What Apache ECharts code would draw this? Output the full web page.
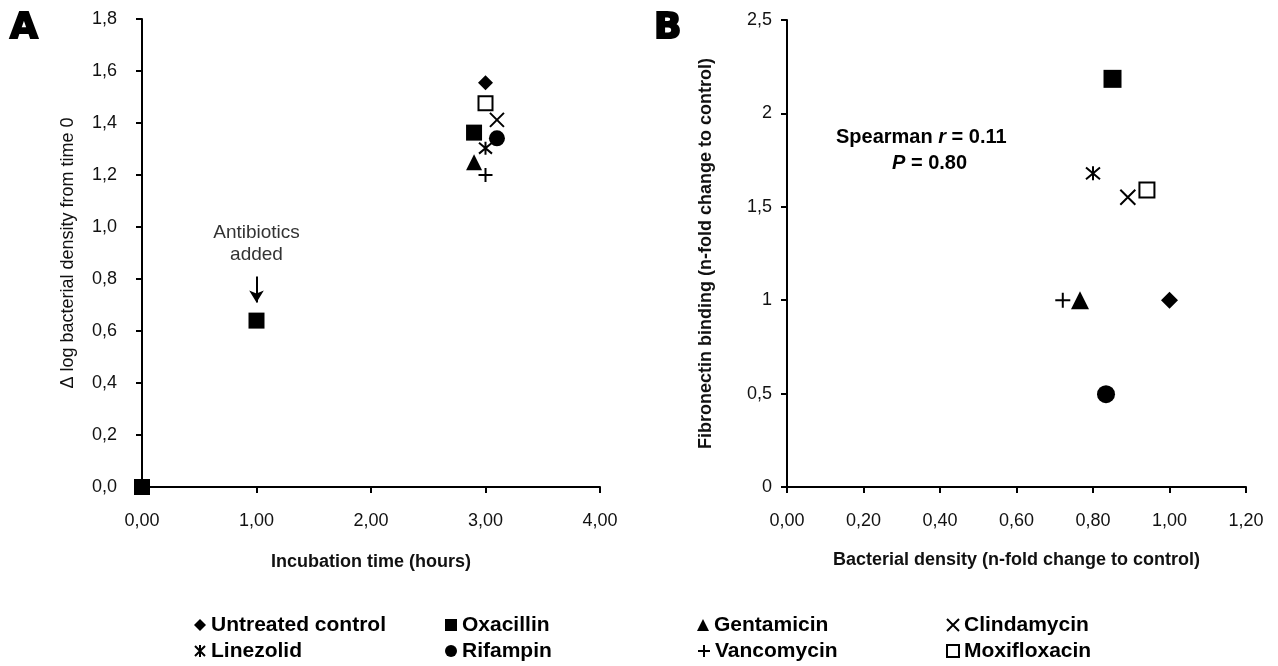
<!DOCTYPE html>
<html><head><meta charset="utf-8">
<script src="https://cdn.jsdelivr.net/npm/echarts@6/dist/echarts.min.js"></script>
<style>html,body{margin:0;padding:0;background:#fff}#c{width:1278px;height:666px}</style>
</head><body><div id="c"></div>
<script>
// ---------- data ----------
const treatments = ['Untreated control','Oxacillin','Gentamicin','Clindamycin','Linezolid','Rifampin','Vancomycin','Moxifloxacin'];
const earlyTimes = [0, 1];                 // hours (shown for Oxacillin marker)
const earlyDelta = [0.0, 0.64];            // Δ log density at 0 h and 1 h
const hour3Times = [3.0, 2.9, 2.9, 3.1, 3.0, 3.1, 3.0, 3.0];
const hour3Delta = [1.555, 1.363, 1.249, 1.412, 1.303, 1.341, 1.200, 1.476];
const bacterialDensity = [1.00, 0.851, 0.766, 0.891, 0.800, 0.834, 0.721, 0.941];
const fibronectinBinding = [1.00, 2.185, 1.00, 1.551, 1.679, 0.497, 1.00, 1.590];
const xTicksA = ['0,00','1,00','2,00','3,00','4,00'];
const yTicksA = ['0,0','0,2','0,4','0,6','0,8','1,0','1,2','1,4','1,6','1,8'];
const xTicksB = ['0,00','0,20','0,40','0,60','0,80','1,00','1,20'];
const yTicksB = ['0','0,5','1','1,5','2','2,5'];
const arrowStart = [1, 0.81];
const arrowEnd = [1, 0.71];

// ---------- styles ----------
const FONT = '"Liberation Sans", Arial, Helvetica, sans-serif';
const pathX = 'path://M0,0L10,10M10,0L0,10';
const pathStar = 'path://M0,0L10,10M10,0L0,10M5,-1L5,11';
const pathPlus = 'path://M5,0L5,10M0,5L10,5';
const filled = {color:'#000', opacity:1};
const stroked = {color:'rgba(0,0,0,0)', borderColor:'#000', borderWidth:2, opacity:1};
const markerStyles = [
  {symbol:'diamond', size:15, item:filled},
  {symbol:'rect', size:16, item:filled},
  {symbol:'triangle', size:16, item:filled},
  {symbol:pathX, size:14, item:stroked},
  {symbol:pathStar, size:13, item:stroked},
  {symbol:'circle', size:16, item:filled},
  {symbol:pathPlus, size:14, item:stroked},
  {symbol:'rect', size:14, item:{color:'#fff', borderColor:'#000', borderWidth:2, opacity:1}}
];

const axisLine = {show:true, onZero:false, lineStyle:{color:'#000', width:2}};
const axisTick = {show:true, inside:false, length:6, lineStyle:{color:'#000', width:2}};
const labelStyle = {color:'#111', fontSize:18, fontFamily:FONT};

const series = [];
treatments.forEach((name, i) => {
  const m = markerStyles[i];
  const ptsA = [[hour3Times[i], hour3Delta[i]]];
  if (name === 'Oxacillin') {
    earlyTimes.forEach((t, k) => ptsA.unshift([t, earlyDelta[k]]));
  }
  series.push({type:'scatter', name, xAxisIndex:0, yAxisIndex:0, data:ptsA,
    symbol:m.symbol, symbolSize:m.size, itemStyle:m.item, emphasis:{disabled:true}, z:3});
  series.push({type:'scatter', name, xAxisIndex:1, yAxisIndex:1,
    data:[[bacterialDensity[i], fibronectinBinding[i]]],
    symbol:m.symbol, symbolSize:Math.round(m.size*1.1), itemStyle:m.item, emphasis:{disabled:true}, z:3});
});
// annotation arrow
series.push({type:'scatter', name:'_annot', xAxisIndex:0, yAxisIndex:0, data:[], silent:true,
  markLine:{silent:true, symbol:['none','arrow'], symbolSize:[11,12],
    lineStyle:{color:'#000', width:2, type:'solid'},
    label:{show:true, position:'start', distance:11, formatter:'Antibiotics\nadded',
      color:'#333', fontSize:19, lineHeight:22, fontFamily:FONT},
    data:[[{coord:arrowStart}, {coord:arrowEnd}]]}});

const legends = treatments.map((name, i) => {
  const colCenters = [200, 451, 703, 952];
  const rowCenters = [625, 651];
  return {data:[name], left:colCenters[i%4]-6, top:rowCenters[Math.floor(i/4)]-12,
    itemWidth:12, itemHeight:12, padding:0, selectedMode:false,
    textStyle:{fontSize:21, fontWeight:'bold', color:'#000', fontFamily:FONT, lineHeight:24}};
});

const chart = echarts.init(document.getElementById('c'), null, {renderer:'canvas'});
chart.setOption({
  backgroundColor:'#fff',
  animation:false,
  grid:[
    {left:142, top:19, width:458, height:468},
    {left:787, top:20, width:459, height:467}
  ],
  xAxis:[
    {type:'value', gridIndex:0, min:0, max:4, interval:1, axisLine, axisTick, splitLine:{show:false},
     axisLabel:{...labelStyle, margin:25, formatter:(v,i)=>xTicksA[i]},
     name:'Incubation time (hours)', nameLocation:'middle', nameGap:66,
     nameTextStyle:{fontSize:18, fontWeight:'bold', color:'#111', fontFamily:FONT}},
    {type:'value', gridIndex:1, min:0, max:1.2, interval:0.2, axisLine, axisTick, splitLine:{show:false},
     axisLabel:{...labelStyle, margin:25, formatter:(v,i)=>xTicksB[i]},
     name:'Bacterial density (n-fold change to control)', nameLocation:'middle', nameGap:64,
     nameTextStyle:{fontSize:18, fontWeight:'bold', color:'#111', fontFamily:FONT}}
  ],
  yAxis:[
    {type:'value', gridIndex:0, min:0, max:1.8, interval:0.2, axisLine, axisTick, splitLine:{show:false},
     axisLabel:{...labelStyle, margin:25, formatter:(v,i)=>yTicksA[i]},
     name:'Δ log bacterial density from time 0', nameLocation:'middle', nameGap:65,
     nameTextStyle:{fontSize:18, color:'#111', fontFamily:FONT}},
    {type:'value', gridIndex:1, min:0, max:2.5, interval:0.5, axisLine, axisTick, splitLine:{show:false},
     axisLabel:{...labelStyle, margin:15, formatter:(v,i)=>yTicksB[i]},
     name:'Fibronectin binding (n-fold change to control)', nameLocation:'middle', nameGap:72,
     nameTextStyle:{fontSize:18, fontWeight:'bold', color:'#111', fontFamily:FONT}}
  ],
  legend:legends,
  series,
  graphic:[
    {type:'text', left:9, top:10, style:{text:'A', font:'bold 36px "DejaVu Sans", sans-serif', fill:'#000', stroke:'#000', lineWidth:2}},
    {type:'text', left:653, top:10, style:{text:'B', font:'bold 36px "DejaVu Sans", sans-serif', fill:'#000', stroke:'#000', lineWidth:2}},
    {type:'text', left:836, top:127, style:{
      text:'{b|Spearman }{i|r}{b| = 0.11}', fill:'#000',
      rich:{b:{fontSize:20, fontWeight:'bold', fontFamily:FONT, fill:'#000'},
            i:{fontSize:20, fontWeight:'bold', fontStyle:'italic', fontFamily:FONT, fill:'#000'}}}},
    {type:'text', left:892, top:153, style:{
      text:'{i|P}{b| = 0.80}', fill:'#000',
      rich:{b:{fontSize:20, fontWeight:'bold', fontFamily:FONT, fill:'#000'},
            i:{fontSize:20, fontWeight:'bold', fontStyle:'italic', fontFamily:FONT, fill:'#000'}}}}
  ]
});
</script></body></html>
